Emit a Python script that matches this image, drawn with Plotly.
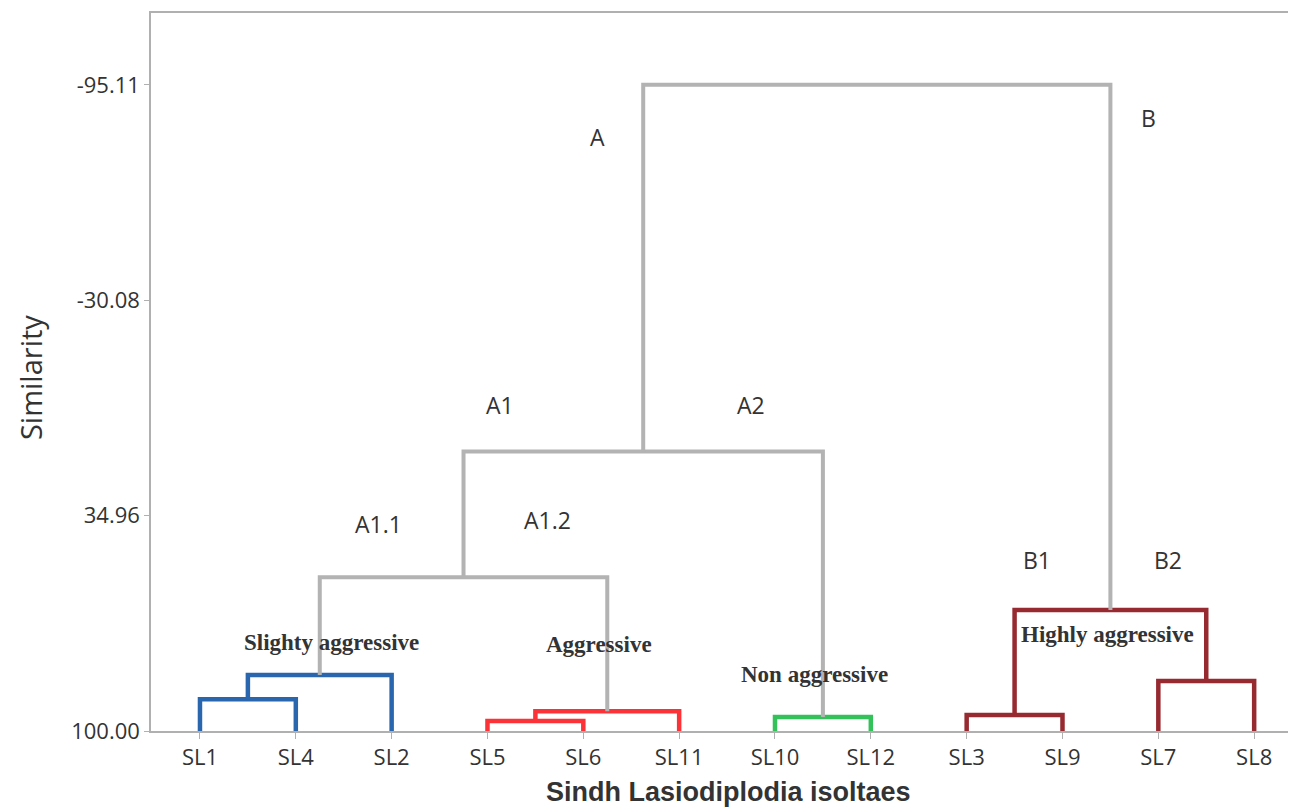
import plotly.graph_objects as go

# ---------------- data ----------------
leaves = ["SL1", "SL4", "SL2", "SL5", "SL6", "SL11", "SL10", "SL12", "SL3", "SL9", "SL7", "SL8"]
# merges: (left child, right child, similarity level); children 0..11 are leaves, 12+ are earlier merges
merge_left = [0, 12, 3, 14, 6, 8, 10, 17, 13, 20, 21]
merge_right = [1, 2, 4, 5, 7, 9, 11, 18, 15, 16, 19]
merge_height = [90.4, 83.1, 97.0, 94.0, 95.8, 95.2, 84.9, 63.5, 53.6, 15.6, -95.11]
merge_group = ["slight", "slight", "aggr", "aggr", "non", "high", "high", "high", "root", "root", "root"]

y_tickvals = [-95.11, -30.08, 34.96, 100.00]
y_ticktext = ["-95.11", "-30.08", "34.96", "100.00"]

branch_labels = ["A", "B", "A1", "A2", "A1.1", "A1.2", "B1", "B2"]
branch_x = [4.15, 9.9, 3.13, 5.75, 1.86, 3.63, 8.73, 10.1]
branch_y = [-79.4, -85.2, 1.7, 1.7, 37.6, 36.4, 48.4, 48.4]

group_labels = ["Slighty aggressive", "Aggressive", "Non aggressive", "Highly aggressive"]
group_x = [1.37, 4.16, 6.41, 9.47]
group_y = [73.2, 73.8, 82.8, 71.0]

# ---------------- styles ----------------
group_color = {"slight": "#2a66ad", "aggr": "#fb3339", "non": "#33c15a",
               "high": "#972a30", "root": "#b3b3b3"}
group_width = {"slight": 4.5, "aggr": 4.5, "non": 4.5, "high": 4.5, "root": 4}

pos = {i: float(i) for i in range(len(leaves))}
hgt = {i: 100.0 for i in range(len(leaves))}

fig = go.Figure()
for k, (a, b, h, g) in enumerate(zip(merge_left, merge_right, merge_height, merge_group)):
    node = len(leaves) + k
    xa, xb = pos[a], pos[b]
    fig.add_trace(go.Scatter(
        x=[xa, xa, xb, xb], y=[hgt[a], h, h, hgt[b]],
        mode="lines", line=dict(color=group_color[g], width=group_width[g]),
        hoverinfo="skip", showlegend=False, cliponaxis=False))
    pos[node] = (xa + xb) / 2
    hgt[node] = h

SANS = "Open Sans, Noto Sans, sans-serif"
for t, x, y in zip(branch_labels, branch_x, branch_y):
    fig.add_annotation(x=x, y=y, text=t, showarrow=False,
                       font=dict(family=SANS, size=23, color="#333333"))

for t, x, y in zip(group_labels, group_x, group_y):
    fig.add_annotation(x=x, y=y, text="<b>" + t + "</b>", showarrow=False,
                       font=dict(family="Liberation Serif, Times New Roman, serif", size=23, color="#333333"))

# axis titles
fig.add_annotation(xref="paper", yref="paper", x=0.5, y=0, xshift=1, yshift=-61,
                   xanchor="center", yanchor="middle",
                   text="<b>Sindh Lasiodiplodia isoltaes</b>", showarrow=False,
                   font=dict(family="Liberation Sans, Arial, sans-serif", size=27, color="#333333"))
fig.add_annotation(xref="paper", yref="paper", x=0, y=0.4916, xshift=-121,
                   xanchor="center", yanchor="middle",
                   text="Similarity", textangle=-90, showarrow=False,
                   font=dict(family=SANS, size=29, color="#333333"))

fig.update_xaxes(
    range=[-0.511, 11.52], tickmode="array", tickvals=list(range(len(leaves))), ticktext=leaves,
    showline=True, linecolor="#b0b0b0", linewidth=1.5, mirror=True,
    ticks="outside", ticklen=6, tickcolor="#b0b0b0", showgrid=False, zeroline=False,
    tickfont=dict(family=SANS, size=22, color="#333333"))
fig.update_yaxes(
    range=[100, -116.8], tickmode="array", tickvals=y_tickvals, ticktext=y_ticktext,
    showline=True, linecolor="#b0b0b0", linewidth=1.5, mirror=False,
    ticks="outside", ticklen=5, tickcolor="#b0b0b0", showgrid=False, zeroline=False,
    tickfont=dict(family=SANS, size=22, color="#333333"))

fig.update_layout(
    width=1296, height=810, margin=dict(l=143, r=0, t=5, b=87),
    plot_bgcolor="white", paper_bgcolor="white", showlegend=False)

fig.write_html("out.html")
